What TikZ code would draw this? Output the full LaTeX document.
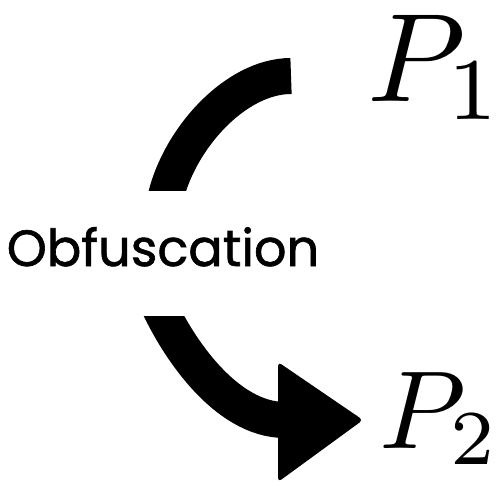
\documentclass[tikz,border=0pt]{standalone}
\usepackage{fontspec}
\usepackage{graphicx}
\newfontfamily\popp{Poppins}[FakeBold=1.2]
\begin{document}
\begin{tikzpicture}[x=1pt,y=-1pt,
  stroke/.style={line width=36pt,line cap=butt,black},
  lbl/.style={inner sep=0pt,outer sep=0pt}]
\useasboundingbox (0,0) rectangle (502,485);
% labels
\node[lbl,anchor=base west] (p1) at (367,101) {\scalebox{12.6}{$P_1$}};
\node[lbl,anchor=base west] (p2) at (379,448) {\scalebox{11.1}{$P_2$}};
\node[lbl,anchor=base] (ob) at (163,266) {\fontsize{51}{51}\selectfont\popp Obfuscation};
% connector coordinates
\coordinate (a0) at (291,76);
\coordinate (a1) at (165,200);
\coordinate (b0) at (154,295);
\coordinate (b1) at (285,420);
\coordinate (tip) at (363,420);
\begin{scope}
\clip (100,0) rectangle (400,190);
\draw[stroke] (a0) .. controls (235,76) and (178,140) .. (a1);
\end{scope}
\begin{scope}
\clip (100,316) rectangle (300,485);
\draw[stroke] (b0) .. controls (175,345) and (225,420) .. (b1);
\end{scope}
\fill[rounded corners=4pt] (278,420) -- (278,362) -- (tip) -- (278,482) -- cycle;
\end{tikzpicture}
\end{document}
